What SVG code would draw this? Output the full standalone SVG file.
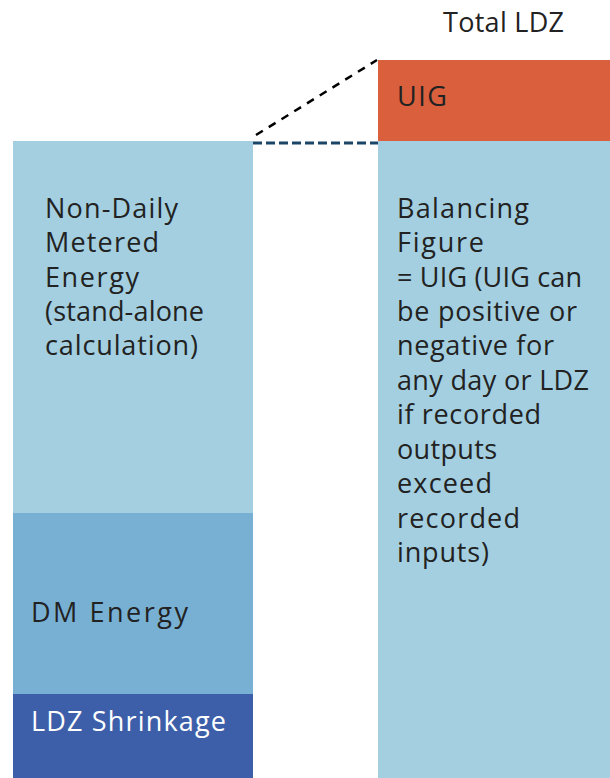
<svg xmlns="http://www.w3.org/2000/svg" width="610" height="778" viewBox="0 0 610 778">
<style>
text{font-family:"Open Sans",Lato,"Liberation Sans",sans-serif;font-size:27px;fill:#222;}
.w{fill:#fff;}
.light{fill:#A3CFE0;}
</style>
<rect width="610" height="778" fill="#fff"/>
<g id="ndm">
<rect class="light" x="13" y="141" width="240" height="372"/>
<text x="45" y="218" textLength="133" lengthAdjust="spacing">Non-Daily</text>
<text x="45" y="252" textLength="114" lengthAdjust="spacing">Metered</text>
<text x="45" y="287" textLength="94" lengthAdjust="spacing">Energy</text>
<text x="45" y="321" textLength="159" lengthAdjust="spacing">(stand-alone</text>
<text x="45" y="355" textLength="153" lengthAdjust="spacing">calculation)</text>
</g>
<g id="dm">
<rect x="13" y="513" width="240" height="181" fill="#78B0D4"/>
<text x="31" y="622" textLength="157" lengthAdjust="spacing">DM Energy</text>
</g>
<g id="shrinkage">
<rect x="13" y="694" width="240" height="84" fill="#3D5FAA"/>
<text class="w" x="31" y="731" textLength="195" lengthAdjust="spacing">LDZ Shrinkage</text>
</g>
<g id="total">
<text x="443" y="32" textLength="121" lengthAdjust="spacing">Total LDZ</text>
</g>
<g id="uig">
<rect x="378" y="60" width="232" height="81" fill="#D95F3D"/>
<text x="397" y="106" textLength="50" lengthAdjust="spacing">UIG</text>
</g>
<g id="balancing">
<rect class="light" x="378" y="141" width="232" height="637"/>
<text x="397" y="218" textLength="132" lengthAdjust="spacing">Balancing</text>
<text x="397" y="252" textLength="87" lengthAdjust="spacing">Figure</text>
<text x="397" y="287" textLength="185" lengthAdjust="spacing">= UIG (UIG can</text>
<text x="397" y="321" textLength="180" lengthAdjust="spacing">be positive or</text>
<text x="397" y="355" textLength="157" lengthAdjust="spacing">negative for</text>
<text x="397" y="390" textLength="192" lengthAdjust="spacing">any day or LDZ</text>
<text x="397" y="424" textLength="144" lengthAdjust="spacing">if recorded</text>
<text x="397" y="459" textLength="100" lengthAdjust="spacing">outputs</text>
<text x="397" y="493" textLength="95" lengthAdjust="spacing">exceed</text>
<text x="397" y="528" textLength="123" lengthAdjust="spacing">recorded</text>
<text x="397" y="562" textLength="92" lengthAdjust="spacing">inputs)</text>
</g>
<g id="connectors">
<line x1="256" y1="135" x2="377" y2="60" stroke="#000" stroke-width="2.5" stroke-dasharray="8,7"/>
<line x1="253" y1="143" x2="378" y2="143" stroke="#1B4566" stroke-width="3" stroke-dasharray="9,4"/>
</g>
</svg>
